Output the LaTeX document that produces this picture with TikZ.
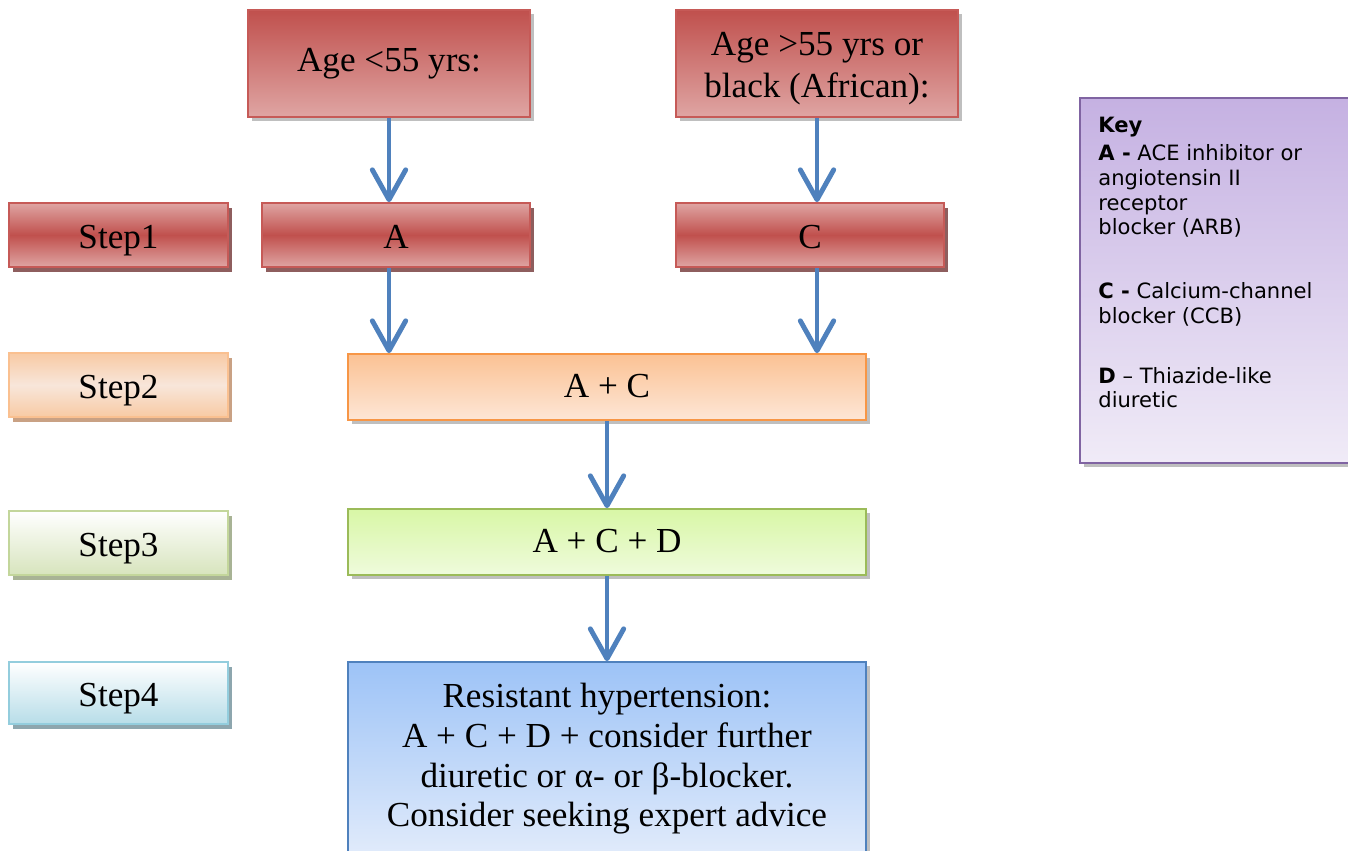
\documentclass[tikz,border=0pt]{standalone}
\usepackage{fontspec}
\setmainfont{Liberation Serif}
\newfontfamily\keyfont{DejaVu Sans}
\usetikzlibrary{arrows.meta,shadows}
\definecolor{redD}{HTML}{C0504D}
\definecolor{redL}{HTML}{DFA5A3}
\definecolor{redB}{HTML}{C65A57}
\definecolor{redS}{HTML}{8E5E5E}
\definecolor{orD}{HTML}{F79646}
\definecolor{orT}{HTML}{FBC294}
\definecolor{orB}{HTML}{FDE6D6}
\definecolor{st2A}{HTML}{F8CAA4}
\definecolor{st2B}{HTML}{F8E6DA}
\definecolor{st2E}{HTML}{FAC090}
\definecolor{st2S}{HTML}{C9A184}
\definecolor{grD}{HTML}{9BBB59}
\definecolor{grT}{HTML}{D8F7A6}
\definecolor{grB}{HTML}{EFFBDC}
\definecolor{st3B}{HTML}{D7E4BD}
\definecolor{st3E}{HTML}{C3D69B}
\definecolor{st3S}{HTML}{A8B395}
\definecolor{st4B}{HTML}{B7DDE8}
\definecolor{st4E}{HTML}{93CDDD}
\definecolor{st4S}{HTML}{8DA6AE}
\definecolor{blD}{HTML}{4F81BD}
\definecolor{blT}{HTML}{9DC3F7}
\definecolor{blB}{HTML}{E6EEFB}
\definecolor{puD}{HTML}{8064A2}
\definecolor{puT}{HTML}{C5B1E2}
\definecolor{puB}{HTML}{F0EBF7}
\definecolor{arrowblue}{HTML}{4F81BD}
\begin{document}
\begin{tikzpicture}[x=0.02cm,y=-0.02cm,
  box/.style={rectangle, inner sep=0pt, line width=1pt, font=\fontsize{20}{23}\selectfont, align=center},
  oneline/.style={text height=#1, text depth=0pt},
  soft/.style={drop shadow={shadow xshift=2.5pt, shadow yshift=-2.5pt, opacity=0.25, fill=black}},
  hardshadow/.style={drop shadow={shadow xshift=2.3pt, shadow yshift=-2.8pt, opacity=1, fill=#1}},
  topbox/.style={box, soft, draw=redB, top color=redD, bottom color=redL, minimum width=5.64cm, minimum height=2.14cm},
  redbar/.style={box, oneline=15pt, hardshadow=redS, draw=redB, top color=redL, bottom color=redL, middle color=redD, minimum height=1.28cm},
  stepbox/.style={box, oneline=15.5pt, minimum width=4.38cm},
  wide/.style={box, soft, minimum width=10.36cm},
  arr/.style={draw=arrowblue, line width=2.8pt, -{Straight Barb[length=17pt,width=19pt,round]}}
]
\useasboundingbox (0,0) rectangle (1348,850);
\clip (0,0) rectangle (1348,850);

% top boxes
\node[topbox] (age1) at (389,63.5) {Age <55 yrs:};
\node[topbox, font=\fontsize{20}{24.4}\selectfont] (age2) at (817,63.5) {\rule{0pt}{19pt}Age >55 yrs or\\black (African):};

% step 1 row
\node[redbar, stepbox] (s1) at (118.5,235) {Step1};
\node[redbar, minimum width=5.36cm] (A) at (396,235) {A};
\node[redbar, minimum width=5.36cm] (C) at (810,235) {C};

% step 2 row
\node[stepbox, hardshadow=st2S, draw=st2E, top color=st2A, bottom color=st2A, middle color=st2B, minimum height=1.28cm] (s2) at (118.5,385) {Step2};
\node[wide, oneline=12pt, draw=orD, top color=orT, bottom color=orB, minimum height=1.32cm] (AC) at (607,387) {A + C};

% step 3 row
\node[stepbox, hardshadow=st3S, draw=st3E, top color=white, bottom color=st3B, minimum height=1.28cm] (s3) at (118.5,543) {Step3};
\node[wide, oneline=12pt, draw=grD, top color=grT, bottom color=grB, minimum height=1.32cm] (ACD) at (607,542) {A + C + D};

% step 4 row
\node[stepbox, hardshadow=st4S, draw=st4E, top color=white, bottom color=st4B, minimum height=1.24cm] (s4) at (118.5,693) {Step4};
\node[wide, draw=blD, top color=blT, bottom color=blB, minimum height=4.16cm] (res) at (607,766) {};
\node[box, font=\fontsize{20}{22.6}\selectfont] (restext) at (607,759) {Resistant hypertension:\\A + C + D + consider further\\diuretic or α- or β-blocker.\\Consider seeking expert advice};

% key
\node[box, soft, draw=puD, top color=puT, bottom color=puB, minimum width=5.56cm, minimum height=7.3cm] (key) at (1219,280.5) {};
\node[anchor=north west, inner sep=0pt, align=left, font=\keyfont\fontsize{12}{14}\selectfont] (keytext) at (1098,117)
{\textbf{Key}\\[2pt]
\textbf{A -} ACE inhibitor or\\
angiotensin II\\
receptor\\
blocker (ARB)\\[22.5pt]
\textbf{C -} Calcium-channel\\
blocker (CCB)\\[20pt]
\textbf{D} – Thiazide-like\\
diuretic};

% arrows
\draw[arr] (age1.south) -- (age1.south |- A.north);
\draw[arr] (age2.south) -- (age2.south |- C.north);
\draw[arr] (age1.south |- A.south) -- (age1.south |- AC.north);
\draw[arr] (age2.south |- C.south) -- (age2.south |- AC.north);
\draw[arr] (AC.south) -- (ACD.north);
\draw[arr] (ACD.south) -- (res.north);
\end{tikzpicture}
\end{document}
